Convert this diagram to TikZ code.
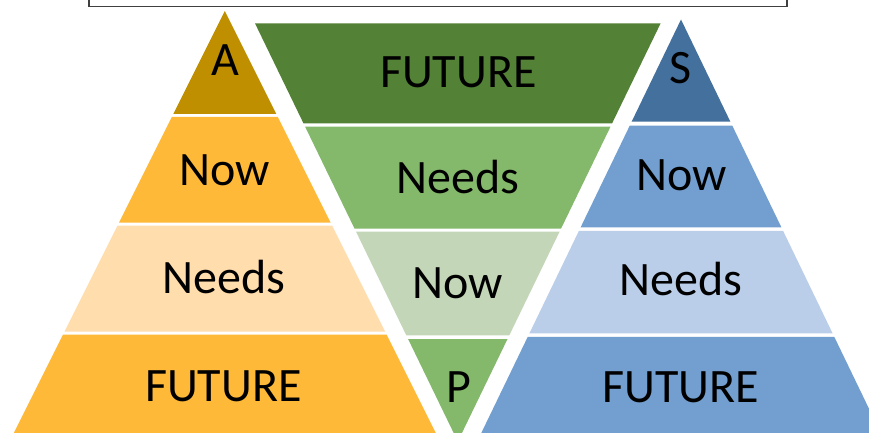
\documentclass[tikz,border=0pt]{standalone}
\usepackage{fontspec}
\setmainfont{Carlito}
\definecolor{golddark}{HTML}{BF8F00}
\definecolor{goldmid}{HTML}{FFB938}
\definecolor{goldpale}{HTML}{FFDDAD}
\definecolor{greendark}{HTML}{538135}
\definecolor{greenmid}{HTML}{84B86A}
\definecolor{greenpale}{HTML}{C3D7B8}
\definecolor{bluedark}{HTML}{44709D}
\definecolor{bluemid}{HTML}{729FCF}
\definecolor{bluepale}{HTML}{BACEE9}
% upright pyramid band: apex x, apex y, slope, y1, y2, colour
\newcommand\upband[6]{%
  \fill[#6] ({#1-#3*(#4-#2)},#4) -- ({#1+#3*(#4-#2)},#4) --
            ({#1+#3*(#5-#2)},#5) -- ({#1-#3*(#5-#2)},#5) -- cycle;}
% inverted pyramid band: apex x, apex y (bottom), slope, y1, y2, colour
\newcommand\downband[6]{%
  \fill[#6] ({#1-#3*(#2-#4)},#4) -- ({#1+#3*(#2-#4)},#4) --
            ({#1+#3*(#2-#5)},#5) -- ({#1-#3*(#2-#5)},#5) -- cycle;}
\tikzset{
  lbl/.style={anchor=base, inner sep=0pt, font=\fontsize{48}{58}\selectfont, text=black},
  topbox/.style={draw=black!75, line width=1.2pt}
}
\begin{document}
\begin{tikzpicture}[x=1pt,y=-1pt]
\useasboundingbox (0,0) rectangle (869,433);
\clip (0,0) rectangle (869,433);
\fill[white] (0,0) rectangle (869,433);
% top box (cut off by the edge)
\draw[topbox] (89,-20) rectangle (787,6.8);
% left pyramid
\upband{224.8}{11}{0.5}{11}{114}{golddark}
\upband{224.8}{11}{0.5}{117}{222.5}{goldmid}
\upband{224.8}{11}{0.5}{225.5}{331.5}{goldpale}
\upband{224.8}{11}{0.5}{334.5}{445}{goldmid}
% middle inverted pyramid
\downband{457.8}{441.5}{0.485}{23.3}{123.3}{greendark}
\downband{457.8}{441.5}{0.485}{126.7}{228.5}{greenmid}
\downband{457.8}{441.5}{0.485}{231.7}{335.3}{greenpale}
\downband{457.8}{441.5}{0.485}{339}{441.5}{greenmid}
% right pyramid
\upband{681}{19.5}{0.483}{19.5}{121.7}{bluedark}
\upband{681}{19.5}{0.483}{125.5}{227.3}{bluemid}
\upband{681}{19.5}{0.483}{230.8}{333.3}{bluepale}
\upband{681}{19.5}{0.483}{336.8}{445}{bluemid}
% labels
\node[lbl] (la)     at (225.5,76)    {A};
\node[lbl] (lnow)   at (224.7,185)   {Now};
\node[lbl] (lneeds) at (224,293.3)   {Needs};
\node[lbl] (lfut)   at (223.3,401.7) {FUTURE};
\node[lbl] (mfut)   at (458.3,87.3)  {FUTURE};
\node[lbl] (mneeds) at (458,193.3)   {Needs};
\node[lbl] (mnow)   at (457.4,298.3) {Now};
\node[lbl] (mp)     at (459,402.7)   {P};
\node[lbl] (rs)     at (681,83.3)    {S};
\node[lbl] (rnow)   at (681.7,190)   {Now};
\node[lbl] (rneeds) at (681.3,295)   {Needs};
\node[lbl] (rfut)   at (680.8,402.3) {FUTURE};
\end{tikzpicture}
\end{document}
